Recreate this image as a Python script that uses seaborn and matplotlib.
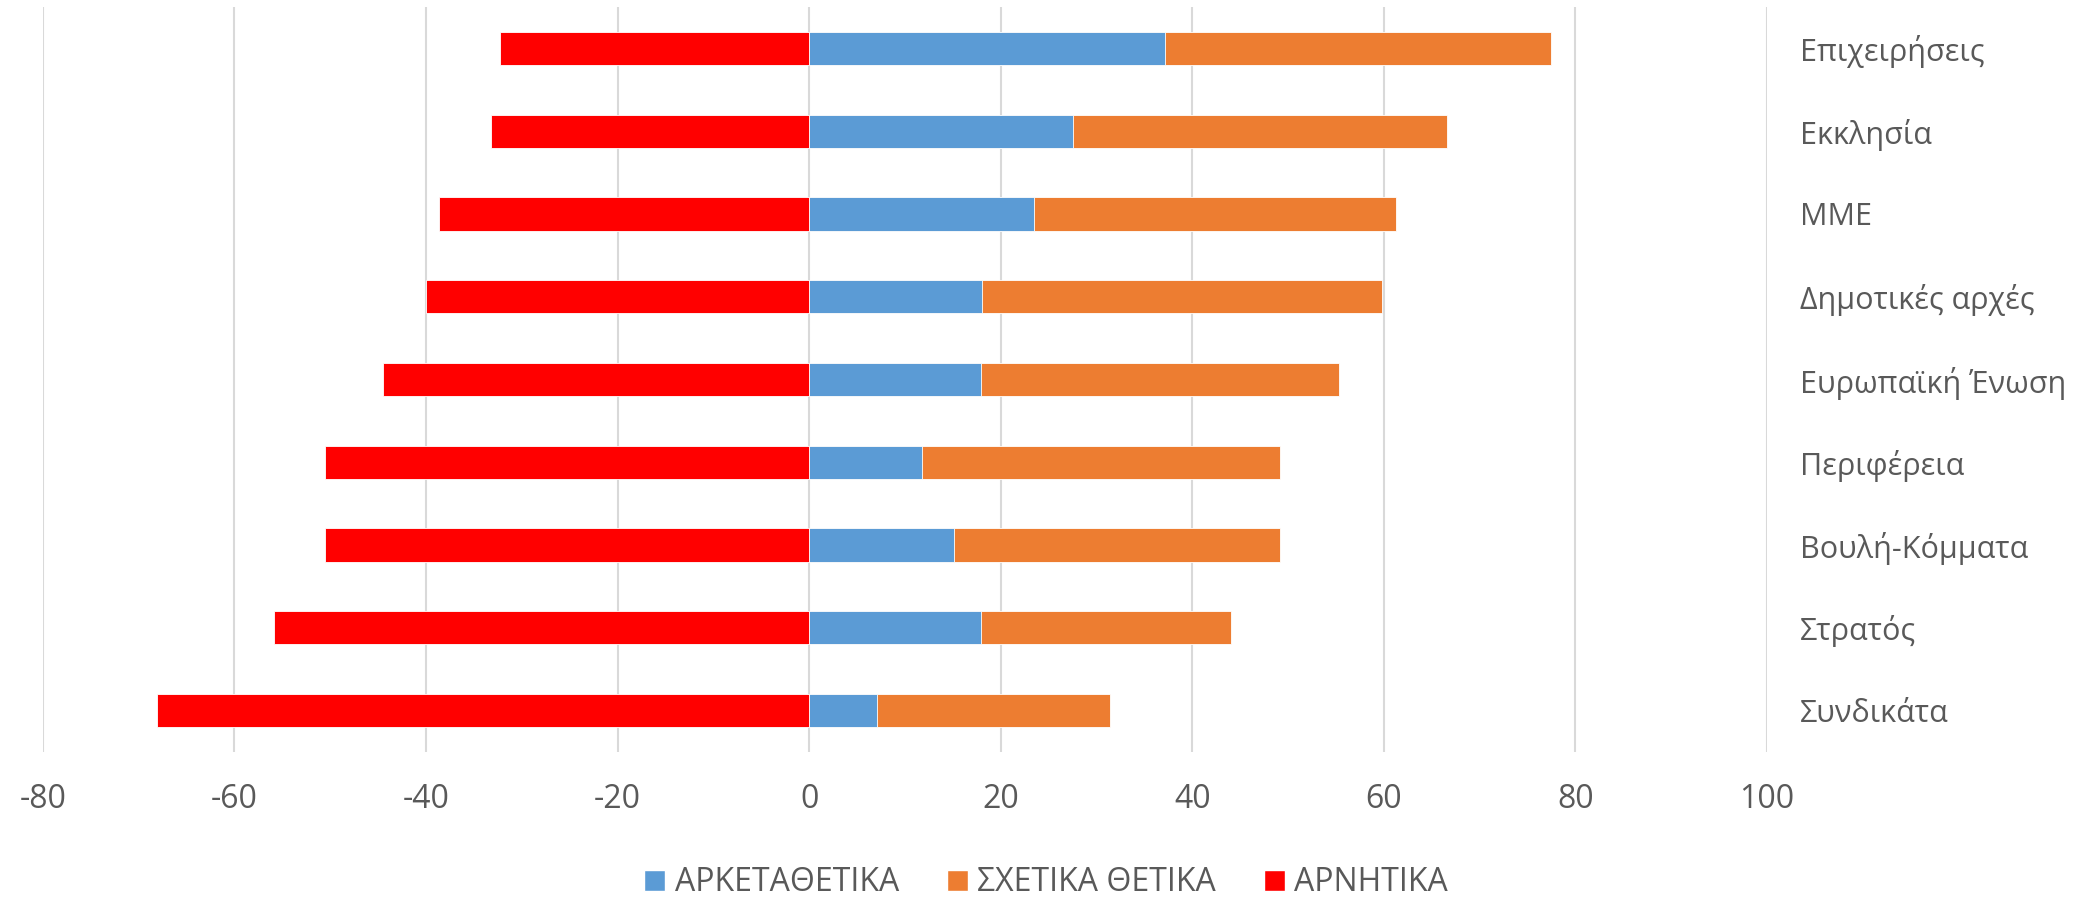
import numpy as np
import matplotlib
matplotlib.use("Agg")
import matplotlib.pyplot as plt
import seaborn as sns
from matplotlib.patches import Patch

# data, top to bottom
categories = ["Επιχειρήσεις", "Εκκλησία", "ΜΜΕ", "Δημοτικές αρχές", "Ευρωπαϊκή Ένωση",
              "Περιφέρεια", "Βουλή-Κόμματα", "Στρατός", "Συνδικάτα"]
arketa_thetika = [37.2, 27.6, 23.5, 18.1, 17.9, 11.8, 15.1, 17.9, 7.1]
sxetika_thetika = [40.3, 39.0, 37.8, 41.7, 37.4, 37.4, 34.1, 26.1, 24.3]
arnitika = [-32.3, -33.2, -38.6, -40.0, -44.5, -50.5, -50.5, -55.9, -68.1]
series_names = ["ΑΡΚΕΤΑΘΕΤΙΚΑ", "ΣΧΕΤΙΚΑ ΘΕΤΙΚΑ", "ΑΡΝΗΤΙΚΑ"]
xticks = [-80, -60, -40, -20, 0, 20, 40, 60, 80, 100]

BLUE = "#5B9BD5"
ORANGE = "#ED7D31"
RED = "#FF0000"
TEXT = "#595959"
GRID = "#D9D9D9"

sns.set_theme(style="white")
plt.rcParams["font.family"] = ["Open Sans", "DejaVu Sans"]

fig = plt.figure(figsize=(20.98, 9.01), dpi=100)
ax = fig.add_axes([0.0204, 0.1654, 0.8218, 0.8268])

# stacked positive part: draw the total in orange, blue on top of it
total_pos = np.array(arketa_thetika) + np.array(sxetika_thetika)
sns.barplot(x=total_pos, y=categories, color=ORANGE, width=0.4, orient="h",
            saturation=1, edgecolor="white", linewidth=0.6, ax=ax)
sns.barplot(x=arketa_thetika, y=categories, color=BLUE, width=0.4, orient="h",
            saturation=1, edgecolor="white", linewidth=0.6, ax=ax)
sns.barplot(x=arnitika, y=categories, color=RED, width=0.4, orient="h",
            saturation=1, edgecolor="white", linewidth=0.6, ax=ax)

ax.set_xlim(-80, 100)
ax.set_xticks(xticks)
ax.set_xticklabels([str(t) for t in xticks])
ax.xaxis.grid(True, color=GRID, linewidth=1.5)
ax.yaxis.grid(False)
ax.set_axisbelow(True)
for s in ax.spines.values():
    s.set_visible(False)

ax.yaxis.tick_right()
ax.tick_params(axis="y", length=0, pad=24, labelsize=22, labelcolor=TEXT)
ax.tick_params(axis="x", length=0, pad=22, labelsize=23, labelcolor=TEXT)
ax.set_xlabel("")
ax.set_ylabel("")

handles = [Patch(facecolor=c) for c in (BLUE, ORANGE, RED)]
fig.legend(handles, series_names, loc="center", bbox_to_anchor=(0.4986, 0.02),
           ncol=3, frameon=False, fontsize=23, labelcolor=TEXT,
           handlelength=0.65, handleheight=0.65, handletextpad=0.3,
           columnspacing=1.5)

fig.savefig("out.png", dpi=100)
